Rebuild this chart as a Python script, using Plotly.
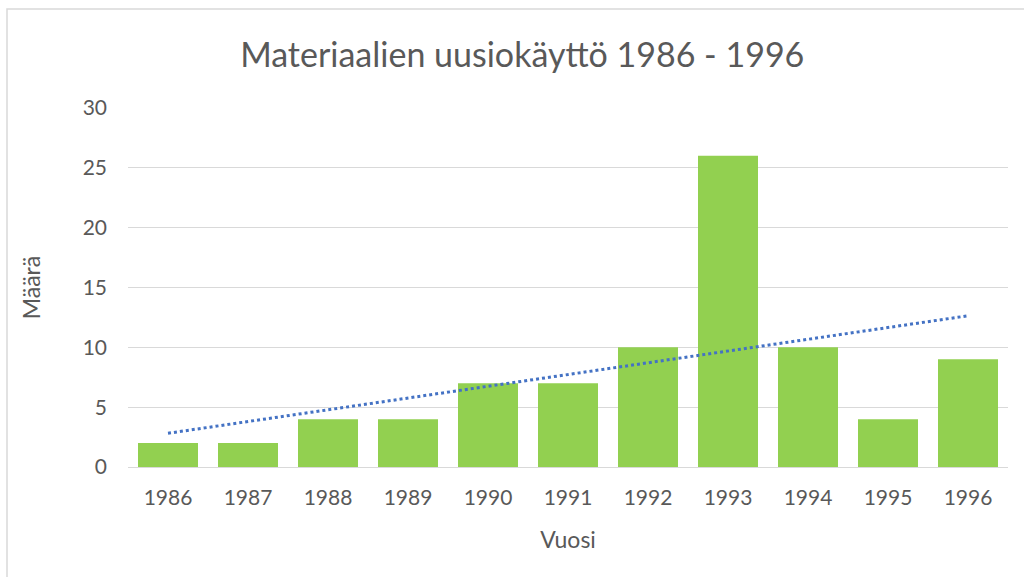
import numpy as np
import plotly.graph_objects as go

years = ["1986", "1987", "1988", "1989", "1990", "1991", "1992", "1993", "1994", "1995", "1996"]
values = [2, 2, 4, 4, 7, 7, 10, 26, 10, 4, 9]
title_text = "Materiaalien uusiokäyttö 1986 - 1996"
x_title = "Vuosi"
y_title = "Määrä"

# linear trendline (as in Excel's linear trendline)
idx = np.arange(len(values))
slope, intercept = np.polyfit(idx, values, 1)
trend = slope * idx + intercept

FONT = "Lato"
GREY = "#595959"

fig = go.Figure()
fig.add_trace(go.Bar(x=years, y=values, marker=dict(color="#92d050", line=dict(width=0)),
                     showlegend=False))
fig.add_trace(go.Scatter(x=years, y=trend, mode="lines",
                         line=dict(color="#4472c4", width=3, dash="dot"),
                         showlegend=False, hoverinfo="skip"))

L, R, T, B = 128, 16, 108, 110
W, H = 1024, 577
pw, ph = W - L - R, H - T - B

fig.update_layout(
    width=W, height=H,
    margin=dict(l=L, r=R, t=T, b=B),
    paper_bgcolor="white", plot_bgcolor="white",
    bargap=0.25,
    font=dict(family=FONT, color=GREY, size=20),
    title=dict(text=title_text, x=0.51, xanchor="center", y=1 - 55 / H, yanchor="middle",
               font=dict(family=FONT, size=34, color=GREY)),
    xaxis=dict(title=dict(text=x_title, standoff=23, font=dict(size=23, color=GREY)),
               showgrid=False, showline=True, linecolor="#d9d9d9", linewidth=1,
               ticks="", ticklabelstandoff=12, tickfont=dict(size=21, color=GREY)),
    yaxis=dict(title=dict(text=y_title, standoff=35, font=dict(size=23, color=GREY)),
               range=[0, 30], dtick=5, showgrid=True, gridcolor="#d9d9d9", gridwidth=1,
               zeroline=False, showline=False, ticks="", ticklabelstandoff=20,
               tickfont=dict(size=21, color=GREY)),
    shapes=[dict(type="rect", xref="paper", yref="paper",
                 x0=(7 - L) / pw, x1=(W + 20 - L) / pw,
                 y0=-(B + 20) / ph, y1=1 + (T - 9) / ph,
                 line=dict(color="#d9d9d9", width=1.5), layer="below")],
)

fig.write_html("out.html", config={"displayModeBar": False},
               post_script="document.body.style.margin='0';document.body.style.overflow='hidden';")
